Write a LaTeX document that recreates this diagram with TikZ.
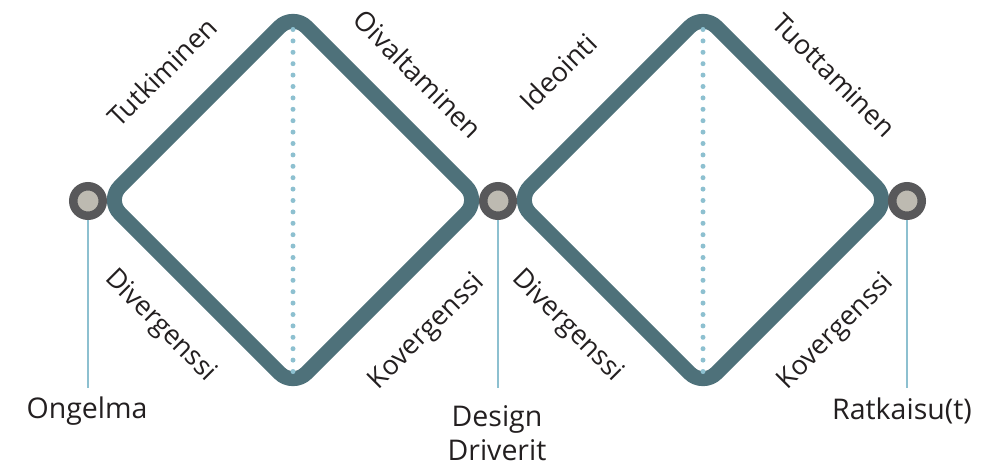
\documentclass[tikz,border=0pt]{standalone}
\usepackage{fontspec}
\setmainfont{Open Sans}
\usepackage{xcolor}
\usetikzlibrary{calc}
\definecolor{teal}{HTML}{4E717A}
\definecolor{ring}{HTML}{58585A}
\definecolor{core}{HTML}{BDBAB1}
\definecolor{stemblue}{HTML}{8DC0D0}
\definecolor{txt}{HTML}{231F20}
\tikzset{
	hub/.style={circle,draw=ring,fill=core,line width=8.5pt,minimum size=29.5pt,inner sep=0pt},
	stem/.style={stemblue,line width=1.2pt},
	diam/.style={teal,line width=15pt,rounded corners=19pt,line join=round},
	mid/.style={stemblue,line width=5pt,line cap=round,dash pattern=on 0pt off 11.4pt},
	lbl/.style={text=txt,font=\fontsize{28.5}{34}\selectfont,inner sep=2pt},
	edge/.style={text=txt,font=\fontsize{27}{32}\selectfont,inner sep=0pt}
}
\begin{document}
\begin{tikzpicture}[x=1pt,y=-1pt]
	\useasboundingbox (0,0) rectangle (985,468);
	% corners of the two diamonds
	\coordinate (d1w) at (106.5,200); \coordinate (d1n) at (293,13.5);
	\coordinate (d1e) at (479.5,200); \coordinate (d1s) at (293,386.5);
	\coordinate (d2w) at (516.5,200); \coordinate (d2n) at (703,13.5);
	\coordinate (d2e) at (889.5,200); \coordinate (d2s) at (703,386.5);
	\draw[diam] ($(d1w)!0.5!(d1n)$) -- (d1n) -- (d1e) -- (d1s) -- (d1w) -- cycle;
	\draw[diam] ($(d2w)!0.5!(d2n)$) -- (d2n) -- (d2e) -- (d2s) -- (d2w) -- cycle;
	\draw[mid] ($(d1n)+(0,16)$) -- ($(d1s)+(0,-13)$);
	\draw[mid] ($(d2n)+(0,16)$) -- ($(d2s)+(0,-13)$);
	% the three points
	\node[hub] (ongelma) at (88,201) {};
	\node[hub] (design) at (498,201) {};
	\node[hub] (ratkaisu) at (907,201) {};
	\node[lbl] (ongelmaTxt) at (87,411) {Ongelma};
	\node[lbl,align=center] (designTxt) at (497,433) {Design\\Driverit};
	\node[lbl] (ratkaisuTxt) at (902,411) {Ratkaisu(t)};
	\draw[stem] (ongelma) -- (88,388);
	\draw[stem] (design) -- (498,388);
	\draw[stem] (ratkaisu) -- (907,388);
	% edge labels
	\node[edge,rotate=45] (tutk) at (162,72) {Tutkiminen};
	\node[edge,rotate=-45] (oiva) at (418,74) {Oivaltaminen};
	\node[edge,rotate=-45] (div1) at (160,326) {Divergenssi};
	\node[edge,rotate=45] (kov1) at (427,332) {Kovergenssi};
	\node[edge,rotate=45] (ideo) at (558,72) {Ideointi};
	\node[edge,rotate=-45] (tuot) at (834,75) {Tuottaminen};
	\node[edge,rotate=-45] (div2) at (567,326) {Divergenssi};
	\node[edge,rotate=45] (kov2) at (836,332) {Kovergenssi};
\end{tikzpicture}
\end{document}
